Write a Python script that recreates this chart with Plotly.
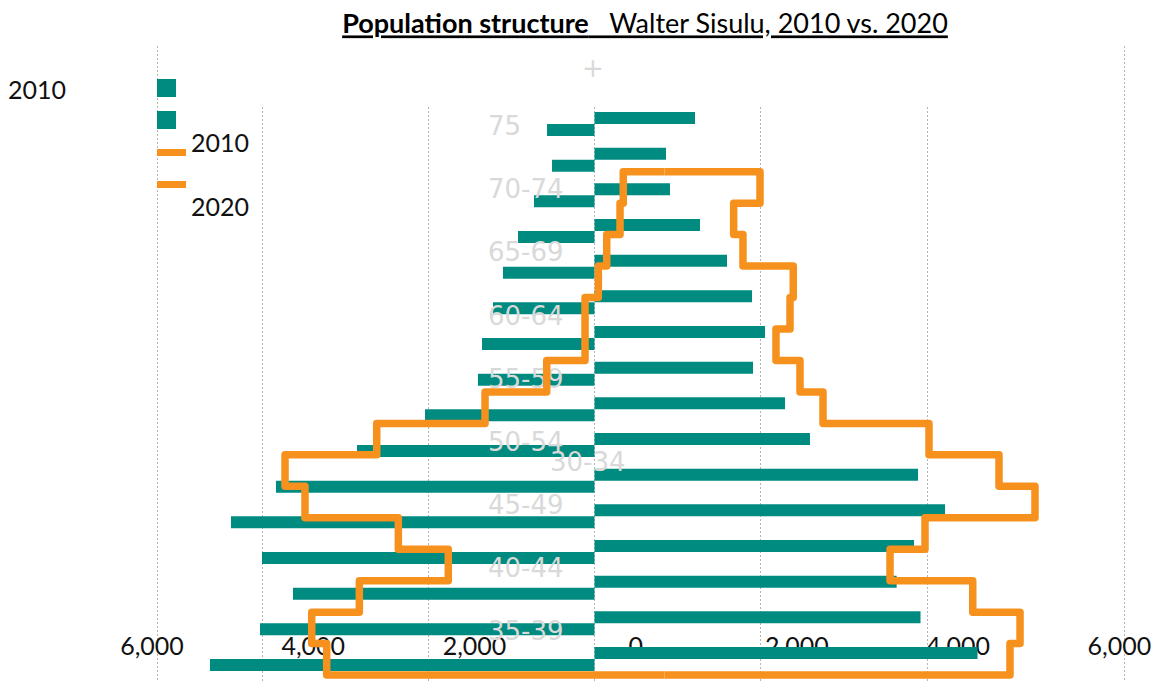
import plotly.graph_objects as go

W, H = 1156, 681

# Age groups, oldest first (top of the pyramid)
age_groups = ["75+", "70-74", "65-69", "60-64", "55-59", "50-54", "45-49", "40-44",
              "35-39", "30-34", "25-29", "20-24", "15-19", "10-14", "5-9", "0-4"]

# 2010 census counts (males drawn to the left as negatives)
male_2010 = [-571, -511, -728, -920, -1101, -1221, -1353, -1402,
             -2039, -2857, -3832, -4373, -4000, -3627, -4024, -4626]
female_2010 = [1209, 860, 908, 1269, 1594, 1895, 2051, 1907,
               2292, 2592, 3892, 4217, 3844, 3635, 3922, 4608]

# 2020 estimates, drawn as stepped outlines
male_2020 = [-496, -535, -695, -796, -956, -956, -1417, -2159,
             -3462, -4565, -4325, -3202, -2601, -3671, -4244, -4064]
female_2020 = [1149, 832, 944, 1549, 1510, 1341, 1630, 1907,
               3182, 4024, 4457, 3134, 2713, 3708, 4277, 4156]

# Age labels shown along the centre of the chart
age_labels = ["75", "70-74", "65-69", "60-64", "55-59", "50-54", "45-49", "40-44", "35-39"]

x_tick_values = [-6000, -4000, -2000, 0, 2000, 4000, 6000]
x_tick_text = ["6,000", "4,000", "2,000", "0", "2,000", "4,000", "6,000"]
inner_grid_values = [-4000, -2000, 0, 2000, 4000]
outer_grid_values = [-6000, 6000]

TEAL = "#008B80"
ORANGE = "#F7911D"
LABEL_GREY = "#D9D9D9"
GRID = "#B4B4B4"
FONT = "Lato"


def fx(px):
    return px / W


def fy(px):
    return 1 - px / H


def x_range(zero_px, px_per_unit):
    return [-zero_px / px_per_unit, (W - zero_px) / px_per_unit]


fig = go.Figure()

# Subplot 1: outer frame lines and the value labels (drawn beneath the bars)
fig.add_trace(go.Scatter(x=outer_grid_values, y=[0, 0], mode="none",
                         xaxis="x", yaxis="y", showlegend=False, hoverinfo="skip"))
fig.add_trace(go.Scatter(x=x_tick_values, y=[0] * len(x_tick_values), mode="none",
                         xaxis="x4", yaxis="y", showlegend=False, hoverinfo="skip"))

# Subplot 2: 2010 bars
fig.add_trace(go.Bar(y=age_groups, x=female_2010, orientation="h", name="2010",
                     offset=0, width=0.336, marker=dict(color=TEAL, line=dict(width=0)),
                     xaxis="x2", yaxis="y2", showlegend=False, hoverinfo="skip"))
fig.add_trace(go.Bar(y=age_groups, x=male_2010, orientation="h", name="2010",
                     offset=-0.336, width=0.336, marker=dict(color=TEAL, line=dict(width=0)),
                     xaxis="x2", yaxis="y2", showlegend=False, hoverinfo="skip"))

# Subplot 3: 2020 stepped outlines
steps = list(range(len(age_groups) + 1))
for vals in (male_2020, female_2020):
    fig.add_trace(go.Scatter(x=[0] + vals + [0], y=steps + [steps[-1]],
                             mode="lines", line=dict(shape="hv", width=7.5, color=ORANGE),
                             xaxis="x3", yaxis="y3", showlegend=False, hoverinfo="skip",
                             name="2020"))
fig.add_trace(go.Scatter(x=[0] * len(age_labels), y=list(range(len(age_labels))), mode="none",
                         xaxis="x3", yaxis="y4", showlegend=False, hoverinfo="skip"))

grid_common = dict(showgrid=True, gridcolor=GRID, griddash="2px,2px", gridwidth=1,
                   zeroline=False, showline=False, ticks="", showticklabels=False)
hidden = dict(showgrid=False, zeroline=False, showline=False, ticks="", showticklabels=False)

bars_cats = age_groups[::-1]

fig.update_layout(
    width=W, height=H,
    margin=dict(l=0, r=0, t=0, b=0),
    paper_bgcolor="white", plot_bgcolor="rgba(0,0,0,0)",
    hovermode=False, showlegend=False, barmode="overlay",
    font=dict(family=FONT, color="#111111"),
    title=dict(
        text="<u><b>Population structure</b>\u00a0\u00a0\u00a0Walter Sisulu, 2010 vs. 2020</u>",
        x=fx(645), xanchor="center", y=fy(24), yanchor="middle",
        font=dict(family=FONT, size=27, color="#000000"),
    ),
    # outer frame lines at +/-6,000
    xaxis=dict(domain=[0, 1], range=x_range(640.5, 967 / 12000), tickmode="array",
               tickvals=outer_grid_values, **grid_common),
    yaxis=dict(domain=[0, fy(46)], range=[-1, 1], **hidden),
    # value labels
    xaxis4=dict(overlaying="x", anchor="free", position=fy(629), side="bottom",
                range=x_range(635.7, 0.080616), tickmode="array",
                tickvals=x_tick_values, ticktext=x_tick_text,
                showgrid=False, zeroline=False, showline=False, ticks="",
                tickfont=dict(family=FONT, size=25, color="#111111")),
    # bar axes
    xaxis2=dict(domain=[0, 1], anchor="y2", range=x_range(594.5, 0.083125),
                tickmode="array", tickvals=inner_grid_values, **grid_common),
    yaxis2=dict(domain=[0, fy(107)], anchor="x2", type="category",
                categoryorder="array", categoryarray=bars_cats,
                range=[(659 - 681) / 35.667, (659 - 107) / 35.667], **hidden),
    # 2020 outline axes
    xaxis3=dict(domain=[0, 1], anchor="y3", range=x_range(664.5, 0.083125), **hidden),
    yaxis3=dict(domain=[0, 1], anchor="x3",
                range=[(H - 171.7) / 31.46, -171.7 / 31.46], **hidden),
    # age labels in the centre
    yaxis4=dict(overlaying="y3", anchor="free", position=fx(487), side="right",
                range=[(H - 126.2) / 63.07, -126.2 / 63.07], tickmode="array",
                tickvals=list(range(len(age_labels))), ticktext=age_labels,
                showgrid=False, zeroline=False, showline=False, ticks="",
                layer="below traces",
                tickfont=dict(family="DejaVu Sans", size=26, color=LABEL_GREY)),
)

# Stray centre labels
for txt, cx, cy in (("+", 593, 68), ("30-34", 588, 462)):
    fig.add_annotation(text=txt, xref="paper", yref="paper", x=fx(cx), y=fy(cy),
                       xanchor="center", yanchor="middle", showarrow=False,
                       font=dict(family="DejaVu Sans", size=26, color=LABEL_GREY))

# Legend keys
legend_keys = [
    (TEAL, 157, 79, 176, 97),
    (TEAL, 157, 111, 176, 129),
    (ORANGE, 157, 149, 186, 156),
    (ORANGE, 157, 181, 186, 188),
]
for color, x0, y0, x1, y1 in legend_keys:
    fig.add_shape(type="rect", xref="paper", yref="paper",
                  x0=fx(x0), x1=fx(x1), y0=fy(y0), y1=fy(y1),
                  fillcolor=color, line=dict(width=0))

legend_texts = [("2010", 6, 88.5), ("2010", 189, 142.5), ("2020", 189, 206)]
for txt, lx, ly in legend_texts:
    fig.add_annotation(text=txt, xref="paper", yref="paper", x=fx(lx), y=fy(ly),
                       xanchor="left", yanchor="middle", showarrow=False,
                       font=dict(family=FONT, size=25, color="#111111"))

fig.write_html(
    "out.html",
    post_script="document.querySelectorAll('.scatterlayer .js-line').forEach(function(p){p.style.strokeLinejoin='round';});",
)
